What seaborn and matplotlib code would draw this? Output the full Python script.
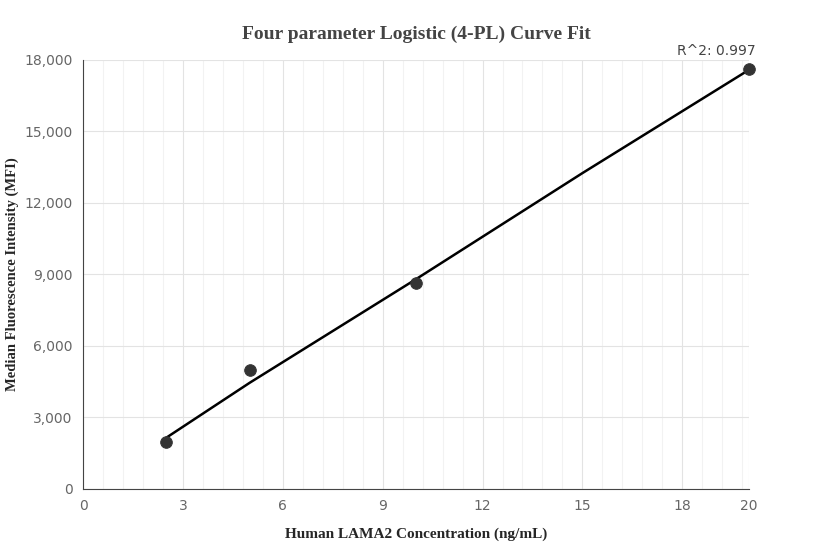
import numpy as np
import matplotlib
matplotlib.use('Agg')
import matplotlib.pyplot as plt
import seaborn as sns
from matplotlib.ticker import FuncFormatter, MultipleLocator

conc = [2.5, 5, 10, 20]
mfi = [1980, 5000, 8650, 17600]
fit_x = [2.5, 5, 10, 15, 20]
fit_y = [2150, 4450, 8800, 13250, 17580]
x_ticks = [0, 3, 6, 9, 12, 15, 18, 20]

sns.set_style('white')
fig, ax = plt.subplots(figsize=(8.32, 5.6), dpi=100)
fig.subplots_adjust(left=0.1, right=0.9, top=0.893, bottom=0.127)

sns.lineplot(x=fit_x, y=fit_y, ax=ax, color='black', linewidth=1.8, zorder=3)
sns.scatterplot(x=conc, y=mfi, ax=ax, color='#333333', s=70, edgecolor='#333333',
                zorder=4, clip_on=False)

ax.set_xlim(0, 20)
ax.set_ylim(0, 18000)
ax.set_xticks(x_ticks)
ax.xaxis.set_minor_locator(MultipleLocator(0.6))
ax.yaxis.set_major_locator(MultipleLocator(3000))
ax.yaxis.set_major_formatter(FuncFormatter(lambda v, p: f'{int(v):,}'))
ax.grid(True, which='major', color='#e3e3e3', linewidth=0.8)
ax.grid(True, which='minor', axis='x', color='#f2f2f2', linewidth=0.8)
ax.tick_params(which='minor', length=0)
ax.tick_params(which='major', length=4, color='#888888', labelsize=10, labelcolor='#666666')
for s in ['top', 'right']:
    ax.spines[s].set_visible(False)
for s in ['left', 'bottom']:
    ax.spines[s].set_color('#444444')

ax.set_xlabel('Human LAMA2 Concentration (ng/mL)', fontfamily='Liberation Serif',
              fontweight='bold', fontsize=11, labelpad=10)
ax.set_ylabel('Median Fluorescence Intensity (MFI)', fontfamily='Liberation Serif',
              fontweight='bold', fontsize=10.5, labelpad=4)
fig.suptitle('Four parameter Logistic (4-PL) Curve Fit', fontfamily='Liberation Serif',
             fontweight='bold', fontsize=14, color='#444444', y=0.955)
ax.text(20.2, 18100, 'R^2: 0.997', ha='right', va='bottom', fontsize=10, color='#444444')

fig.savefig('out.png', dpi=100)
